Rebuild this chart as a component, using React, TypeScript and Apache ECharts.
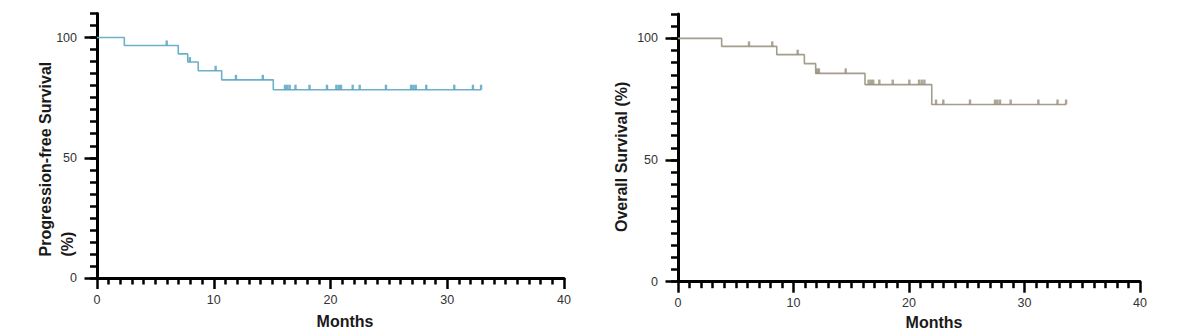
import React, { useEffect, useRef } from "react";
import * as echarts from "echarts";

// ---- Data ----
// Progression-free survival: event times (months) and survival level (%) after each step
const pfsTimes = [0, 2.34, 6.96, 7.77, 8.67, 10.68, 15.1];
const pfsSurv = [100, 96.7, 93.2, 89.8, 86.2, 82.4, 78.3];
const pfsLastFollowUp = 32.9;
const pfsCensor = [
  5.97, 7.95, 10.16, 11.9, 14.2, 16.1, 16.3, 16.5, 17.0, 18.2, 19.7, 20.5, 20.7, 20.9,
  21.9, 22.5, 24.75, 26.9, 27.1, 27.3, 28.2, 30.6, 32.2, 32.9,
];

// Overall survival
const osTimes = [0, 3.78, 8.55, 10.94, 11.92, 16.19, 21.97];
const osSurv = [100, 96.7, 93.3, 89.6, 85.6, 81.0, 72.8];
const osLastFollowUp = 33.6;
const osCensor = [
  6.15, 8.16, 10.36, 12.05, 12.2, 14.52, 16.5, 16.7, 16.9, 17.43, 18.59, 20.03, 20.87,
  21.1, 21.33, 22.34, 22.97, 25.28, 27.45, 27.65, 27.88, 28.8, 31.2, 32.86, 33.6,
];

const yMajorTicks = [0, 50, 100];
const xAxisTitle = "Months";
const pfsTitle = "Progression-free Survival\n(%)";
const osTitle = "Overall Survival (%)";

// ---- helpers ----
function stepPoints(times: number[], surv: number[], end: number): number[][] {
  const pts: number[][] = [];
  for (let i = 0; i < times.length; i++) {
    pts.push([times[i], surv[i]]);
    const next = i + 1 < times.length ? times[i + 1] : end;
    pts.push([next, surv[i]]);
  }
  return pts;
}
function survAt(times: number[], surv: number[], t: number): number {
  let v = surv[0];
  for (let i = 0; i < times.length; i++) {
    if (times[i] <= t) v = surv[i];
  }
  return v;
}

const FONT = "'Liberation Sans', Arial, sans-serif";
const PFS_LINE = "#6DB0CA";
const PFS_MARK = "#4F9FBE";
const OS_LINE = "#A39D8B";
const OS_MARK = "#968F7B";

function xAxisDef(gridIndex: number) {
  return {
    type: "value",
    gridIndex,
    min: 0,
    max: 40,
    interval: 10,
    position: "bottom",
    axisLine: { show: true, lineStyle: { color: "#000", width: 3 } },
    axisTick: { show: true, length: 11, lineStyle: { color: "#000", width: 2.5 } },
    minorTick: { show: true, splitNumber: 10, length: 6.5, lineStyle: { color: "#000", width: 2.5 } },
    axisLabel: { margin: 15, fontSize: 12.5, color: "#333", fontFamily: FONT },
    splitLine: { show: false },
    minorSplitLine: { show: false },
  };
}
function yMinorAxis(gridIndex: number) {
  return {
    type: "value",
    gridIndex,
    min: 0,
    max: 110,
    interval: 5,
    position: "left",
    offset: 0,
    axisLine: { show: true, lineStyle: { color: "#000", width: 3 } },
    axisTick: { show: true, length: 7, lineStyle: { color: "#000", width: 2.5 } },
    axisLabel: {
      show: true,
      margin: 20,
      fontSize: 12.5,
      color: "#333",
      fontFamily: FONT,
      formatter: (v: number) => (yMajorTicks.includes(v) ? String(v) : ""),
    },
    splitLine: { show: false },
  };
}
function yMajorAxis(gridIndex: number) {
  return {
    type: "value",
    gridIndex,
    min: 0,
    max: 110,
    interval: 50,
    position: "left",
    offset: 0,
    axisLine: { show: false },
    axisTick: {
      show: true,
      length: 12.5,
      customValues: yMajorTicks,
      lineStyle: { color: "#000", width: 2.5 },
    },
    axisLabel: { show: false },
    splitLine: { show: false },
  };
}

export default function App() {
  const ref = useRef<HTMLDivElement>(null);
  useEffect(() => {
    if (!ref.current) return;
    const chart = echarts.init(ref.current, undefined, { renderer: "svg" });

    const pfsLine = stepPoints(pfsTimes, pfsSurv, pfsLastFollowUp);
    const osLine = stepPoints(osTimes, osSurv, osLastFollowUp);
    const pfsMarks = pfsCensor.map((t) => [t, survAt(pfsTimes, pfsSurv, t)]);
    const osMarks = osCensor.map((t) => [t, survAt(osTimes, osSurv, t)]);

    const titleStyle = { font: `bold 16px ${FONT}`, fill: "#1a1a1a" };

    chart.setOption({
      animation: false,
      backgroundColor: "#fff",
      grid: [
        { left: 97, top: 13.5, width: 467, height: 264.5, containLabel: false, outerBoundsMode: "none" },
        { left: 678, top: 14, width: 462, height: 267.7, containLabel: false, outerBoundsMode: "none" },
      ],
      xAxis: [xAxisDef(0), xAxisDef(1)],
      yAxis: [yMinorAxis(0), yMajorAxis(0), yMinorAxis(1), yMajorAxis(1)],
      series: [
        {
          type: "line",
          xAxisIndex: 0,
          yAxisIndex: 0,
          data: pfsLine,
          showSymbol: false,
          symbol: "none",
          lineStyle: { color: PFS_LINE, width: 1.6 },
          z: 3,
        },
        {
          type: "scatter",
          xAxisIndex: 0,
          yAxisIndex: 0,
          data: pfsMarks,
          symbol: "rect",
          symbolSize: [2.4, 5],
          symbolOffset: [0, -2.5],
          itemStyle: { color: PFS_MARK },
          z: 4,
        },
        {
          type: "line",
          xAxisIndex: 1,
          yAxisIndex: 2,
          data: osLine,
          showSymbol: false,
          symbol: "none",
          lineStyle: { color: OS_LINE, width: 1.6 },
          z: 3,
        },
        {
          type: "scatter",
          xAxisIndex: 1,
          yAxisIndex: 2,
          data: osMarks,
          symbol: "rect",
          symbolSize: [2.4, 5],
          symbolOffset: [0, -2.5],
          itemStyle: { color: OS_MARK },
          z: 4,
        },
      ],
      graphic: [
        {
          type: "text",
          x: 56.5,
          y: 256.5,
          rotation: Math.PI / 2,
          style: {
            text: pfsTitle,
            ...titleStyle,
            textAlign: "left",
            textVerticalAlign: "middle",
            verticalAlign: "middle",
            lineHeight: 21.5,
          },
        },
        {
          type: "text",
          x: 621.5,
          y: 232,
          rotation: Math.PI / 2,
          style: {
            text: osTitle,
            ...titleStyle,
            textAlign: "left",
            textVerticalAlign: "middle",
            verticalAlign: "middle",
          },
        },
        {
          type: "text",
          x: 345,
          y: 321.5,
          style: {
            text: xAxisTitle,
            ...titleStyle,
            textAlign: "center",
            textVerticalAlign: "middle",
            verticalAlign: "middle",
          },
        },
        {
          type: "text",
          x: 934,
          y: 322,
          style: {
            text: xAxisTitle,
            ...titleStyle,
            textAlign: "center",
            textVerticalAlign: "middle",
            verticalAlign: "middle",
          },
        },
      ],
    });
    return () => chart.dispose();
  }, []);

  return (
    <div
      ref={ref}
      style={{ position: "fixed", left: 0, top: 0, width: 1184, height: 332, background: "#fff" }}
    />
  );
}
